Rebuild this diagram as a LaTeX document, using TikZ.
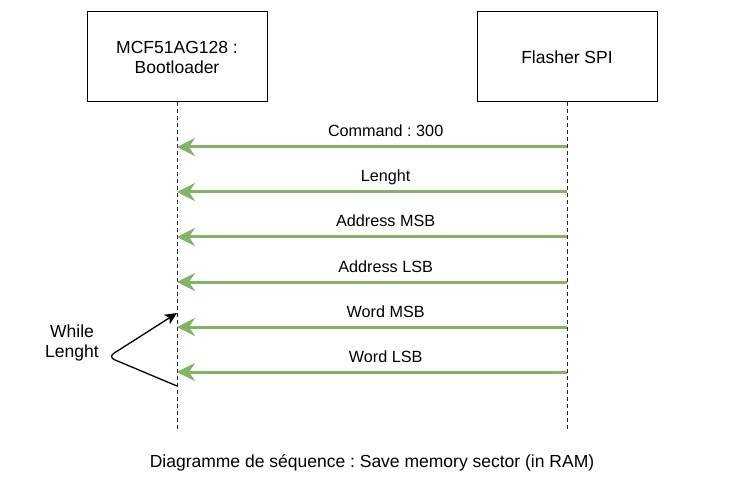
\documentclass[tikz,border=0pt]{standalone}
\usepackage{fontspec}
\setmainfont{Liberation Sans}
\frenchspacing
\usetikzlibrary{arrows.meta}
\definecolor{msggreen}{HTML}{82B366}
\tikzset{
  actor/.style={draw, line width=1pt, minimum width=180pt, minimum height=90pt, align=center},
  lifeline/.style={line width=1pt, dash pattern=on 4pt off 3pt, draw=black!85},
  msg/.style={draw=msggreen, line width=3pt, -{Stealth[length=18pt,width=18pt,inset=6pt]}},
  lbl/.style={pos=0.465, anchor=base, yshift=10pt, font=\fontsize{16.2}{19}\selectfont},
  loopline/.style={line width=1.3pt, rounded corners=7pt, -{Stealth[length=12pt,width=11pt,inset=3pt]}}
}
\begin{document}
\begin{tikzpicture}[x=1pt,y=-1pt,font=\fontsize{17.5}{20}\selectfont]
\useasboundingbox (0,0) rectangle (730,486);
\node[actor] (boot) at (177,57) {MCF51AG128 :\\Bootloader};
\node[actor] (flash) at (567,57) {Flasher SPI};
\coordinate (bootend) at (177,430);
\coordinate (flashend) at (567,430);
\draw[lifeline] (boot) -- (bootend);
\draw[lifeline] (flash) -- (flashend);
% messages
\coordinate (f1) at (567,147); \coordinate (b1) at (177,147);
\coordinate (f2) at (567,192); \coordinate (b2) at (177,192);
\coordinate (f3) at (567,237); \coordinate (b3) at (177,237);
\coordinate (f4) at (567,282); \coordinate (b4) at (177,282);
\coordinate (f5) at (567,327); \coordinate (b5) at (177,327);
\coordinate (f6) at (567,372); \coordinate (b6) at (177,372);
\draw[msg] (f1) -- node[lbl] (m1) {Command : 300} (b1);
\draw[msg] (f2) -- node[lbl] (m2) {Lenght} (b2);
\draw[msg] (f3) -- node[lbl] (m3) {Address MSB} (b3);
\draw[msg] (f4) -- node[lbl] (m4) {Address LSB} (b4);
\draw[msg] (f5) -- node[lbl] (m5) {Word MSB} (b5);
\draw[msg] (f6) -- node[lbl] (m6) {Word LSB} (b6);
% loop
\node[align=center] (while) at (72,343) {While\\Lenght};
\coordinate (lstart) at (177,386);
\coordinate (lbend) at (108,357);
\coordinate (lend) at (177,313);
\draw[loopline] (lstart) -- (lbend) -- (lend);
\node (caption) at (372,463) {Diagramme de séquence : Save memory sector (in RAM)};
\end{tikzpicture}
\end{document}
